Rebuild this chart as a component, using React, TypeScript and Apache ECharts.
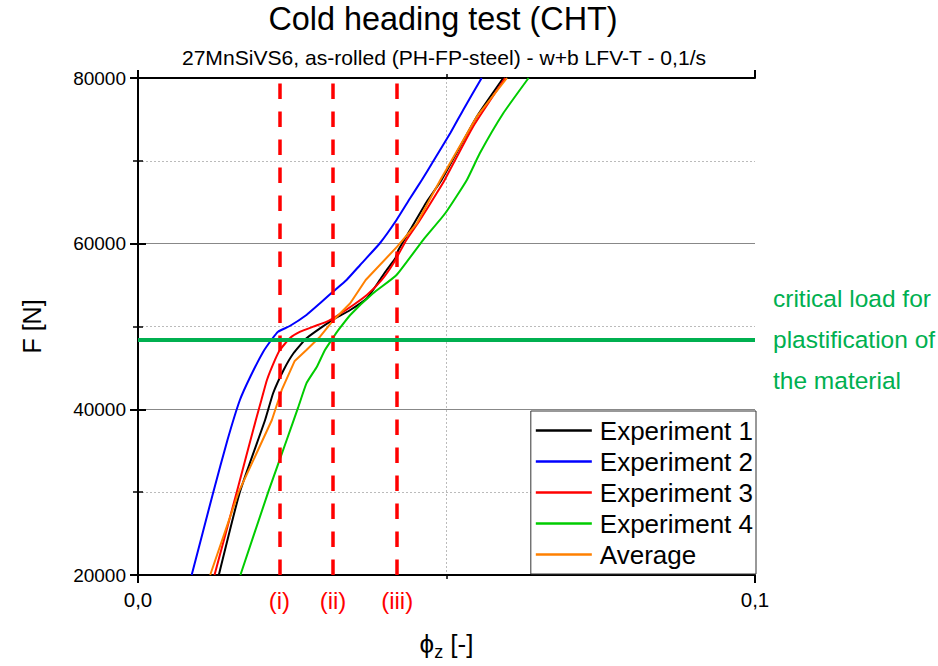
import React, { useEffect, useRef } from 'react';
import * as echarts from 'echarts';

// phi_z [-] , F [N]
const experiment1: [number, number][] = [
  [0.0131, 20000], [0.0165, 30000], [0.0206, 38710], [0.0219, 41940], [0.0236, 44750],
  [0.0252, 46770], [0.0273, 48580], [0.0295, 49780], [0.0317, 50870], [0.0344, 51990],
  [0.0371, 53410], [0.0392, 55620], [0.0403, 56820], [0.0417, 58230], [0.0422, 59240],
  [0.0441, 61650], [0.0468, 65070], [0.0492, 67690], [0.0549, 75330], [0.0592, 80000],
];
const experiment2: [number, number][] = [
  [0.0087, 20000], [0.0122, 30000], [0.0145, 36300], [0.0165, 41100], [0.0182, 43940],
  [0.0203, 46960], [0.0217, 48460], [0.0227, 49370], [0.0246, 50060], [0.0273, 51390],
  [0.0295, 52800], [0.0314, 54080], [0.0338, 55620], [0.0360, 57430], [0.0392, 60050],
  [0.0419, 62860], [0.0441, 65480], [0.0460, 67690], [0.0479, 70000], [0.0506, 73320],
  [0.0527, 76140], [0.0557, 80000],
];
const experiment3: [number, number][] = [
  [0.0124, 20000], [0.0160, 30000], [0.0191, 38710], [0.0200, 41130], [0.0209, 43540],
  [0.0222, 45960], [0.0230, 47160], [0.0246, 48580], [0.0263, 49370], [0.0284, 49980],
  [0.0306, 50580], [0.0322, 51270], [0.0349, 52600], [0.0371, 53800], [0.0395, 55620],
  [0.0414, 57630], [0.0435, 60440], [0.0457, 62860], [0.0484, 66080], [0.0497, 67690],
  [0.0543, 74120], [0.0595, 80000],
];
const experiment4: [number, number][] = [
  [0.0166, 20000], [0.0211, 30000], [0.0241, 36300], [0.0260, 40320], [0.0273, 43140],
  [0.0290, 45150], [0.0303, 47160], [0.0318, 48860], [0.0324, 49500], [0.0344, 51390],
  [0.0381, 54010], [0.0419, 56220], [0.0462, 60440], [0.0498, 63670], [0.0533, 67690],
  [0.0554, 70910], [0.0592, 75740], [0.0633, 80000],
];
const average: [number, number][] = [
  [0.0117, 20000], [0.0163, 30000], [0.0217, 38710], [0.0233, 42340], [0.0254, 45840],
  [0.0273, 47160], [0.0295, 48770], [0.0317, 50790], [0.0344, 52800], [0.0369, 55620],
  [0.0420, 59640], [0.0452, 62460], [0.0490, 67690], [0.0549, 75330], [0.0598, 80000],
];

const seriesNames = ['Experiment 1', 'Experiment 2', 'Experiment 3', 'Experiment 4', 'Average'];
const seriesColors = ['#000000', '#0000ff', '#ff0000', '#00cc00', '#ff8000'];

const stageX = [0.0229, 0.0316, 0.0420];
const stageLabels = ['(i)', '(ii)', '(iii)'];
const criticalLoad = 48400;
const criticalText = ['critical load for', 'plastification of', 'the material'];

const xMin = 0;
const xMax = 0.1;
const yMin = 20000;
const yMax = 80000;
const xLabelValues = [0, 0.1];
const xLabelTexts = ['0,0', '0,1'];
const yLabelValues = [20000, 40000, 60000, 80000];

const FONT = '"Liberation Sans", Arial, sans-serif';

export default function App() {
  const ref = useRef<HTMLDivElement>(null);
  useEffect(() => {
    if (!ref.current) return;
    const chart = echarts.init(ref.current, undefined, { renderer: 'svg' });
    const datasets = [experiment1, experiment2, experiment3, experiment4, average];

    const axisLine = { show: true, lineStyle: { color: '#000', width: 2 } };

    const option: any = {
      animation: false,
      textStyle: { fontFamily: FONT },
      grid: { left: 138, right: 183, top: 78, bottom: 91, containLabel: false },
      graphic: [
        {
          type: 'text', x: 443, y: 19,
          style: { text: 'Cold heading test (CHT)', font: `32.4px ${FONT}`, fill: '#000', textAlign: 'center', textVerticalAlign: 'middle' },
        },
        {
          type: 'text', x: 444, y: 57,
          style: { text: '27MnSiVS6, as-rolled (PH-FP-steel) - w+b LFV-T - 0,1/s', font: `21.1px ${FONT}`, fill: '#000', textAlign: 'center', textVerticalAlign: 'middle' },
        },
      ],
      legend: {
        data: seriesNames,
        orient: 'vertical',
        right: 182,
        top: 411,
        icon: 'rect',
        itemWidth: 56,
        itemHeight: 2.5,
        itemGap: 4,
        padding: [6, 3, 6, 5],
        backgroundColor: '#ffffff',
        borderColor: '#333',
        borderWidth: 1,
        borderRadius: 0,
        textStyle: { fontSize: 26, color: '#000', lineHeight: 27, fontFamily: FONT, padding: [0, 0, 0, 3] },
      },
      xAxis: [
        {
          type: 'value', min: xMin, max: xMax, interval: 0.1, position: 'bottom',
          name: '{p|ϕ}{s|z}{p| [-]}',
          nameLocation: 'middle', nameGap: 52,
          nameTextStyle: {
            rich: {
              p: { fontSize: 26, color: '#000', fontFamily: FONT },
              s: { fontSize: 18, color: '#000', fontFamily: FONT, padding: [16, 0, 0, 0] },
            },
          },
          axisLine,
          axisTick: { show: true, length: 8, lineStyle: { color: '#000', width: 2 } },
          minorTick: { show: true, splitNumber: 2, length: 4, lineStyle: { color: '#000', width: 1.5 } },
          axisLabel: {
            show: true, margin: 14, fontSize: 20.5, color: '#000', fontFamily: FONT,
            formatter: (v: number) => {
              const i = xLabelValues.findIndex((x) => Math.abs(x - v) < 1e-9);
              return i >= 0 ? xLabelTexts[i] : '';
            },
          },
          splitLine: { show: false },
          minorSplitLine: { show: true, lineStyle: { color: '#bbbbbb', width: 1, type: [2, 2] } },
        },
        {
          type: 'value', min: xMin, max: xMax, interval: 0.1, position: 'top',
          axisLine,
          axisTick: { show: true, length: 8, lineStyle: { color: '#000', width: 2 } },
          minorTick: { show: true, splitNumber: 2, length: 4, lineStyle: { color: '#000', width: 1.5 } },
          axisLabel: { show: false },
          splitLine: { show: false },
        },
      ],
      yAxis: [
        {
          type: 'value', min: yMin, max: yMax, interval: 20000, position: 'left',
          name: 'F [N]', nameLocation: 'middle', nameGap: 94, nameRotate: 90,
          nameTextStyle: { fontSize: 25, color: '#000', fontFamily: FONT },
          axisLine,
          axisTick: { show: true, length: 8, lineStyle: { color: '#000', width: 2 } },
          minorTick: { show: true, splitNumber: 2, length: 5, lineStyle: { color: '#000', width: 1.5 } },
          axisLabel: {
            show: true, margin: 12, fontSize: 19, color: '#000', fontFamily: FONT,
            formatter: (v: number) => (yLabelValues.includes(v) ? String(v) : ''),
          },
          splitLine: { show: true, lineStyle: { color: '#888888', width: 1 } },
          minorSplitLine: { show: true, lineStyle: { color: '#bbbbbb', width: 1, type: [2, 2] } },
        },
        {
          type: 'value', min: yMin, max: yMax, interval: 20000, position: 'right',
          axisLine,
          axisTick: { show: true, length: 8, lineStyle: { color: '#000', width: 2 } },
          minorTick: { show: true, splitNumber: 2, length: 5, lineStyle: { color: '#000', width: 1.5 } },
          axisLabel: { show: false },
          splitLine: { show: false },
        },
      ],
      series: [
        ...datasets.map((d, i) => ({
          name: seriesNames[i],
          type: 'line',
          xAxisIndex: 0,
          yAxisIndex: 0,
          data: d,
          symbol: 'none',
          smooth: i === 4 ? false : 0.15,
          clip: true,
          lineStyle: { color: seriesColors[i], width: 2 },
          itemStyle: { color: seriesColors[i] },
          z: 3,
        })),
        {
          name: 'markers',
          type: 'line',
          data: [],
          silent: true,
          z: 6,
          markLine: {
            silent: true,
            symbol: ['none', 'none'],
            animation: false,
            precision: 6,
            data: [
              ...stageX.map((x, i) => [
                {
                  coord: [x, yMin],
                  lineStyle: { color: '#ff0000', width: 3.5, type: [15.5, 12.5] },
                  label: {
                    show: true, position: 'start', formatter: stageLabels[i],
                    color: '#ff0000', fontSize: 24, fontFamily: FONT, distance: 13,
                  },
                },
                { coord: [x, yMax] },
              ]),
              [
                {
                  coord: [xMin, criticalLoad],
                  lineStyle: { color: '#00b050', width: 4, type: 'solid' },
                  label: {
                    show: true, position: 'end', formatter: criticalText.join('\n'),
                    color: '#00b050', fontSize: 24.5, lineHeight: 41, fontFamily: FONT, distance: 18, align: 'left',
                  },
                },
                { coord: [xMax, criticalLoad] },
              ],
            ],
          },
        },
      ],
    };
    chart.setOption(option);
    return () => chart.dispose();
  }, []);
  return <div ref={ref} style={{ position: 'fixed', left: 0, top: 0, width: 938, height: 666, background: '#fff' }} />;
}
